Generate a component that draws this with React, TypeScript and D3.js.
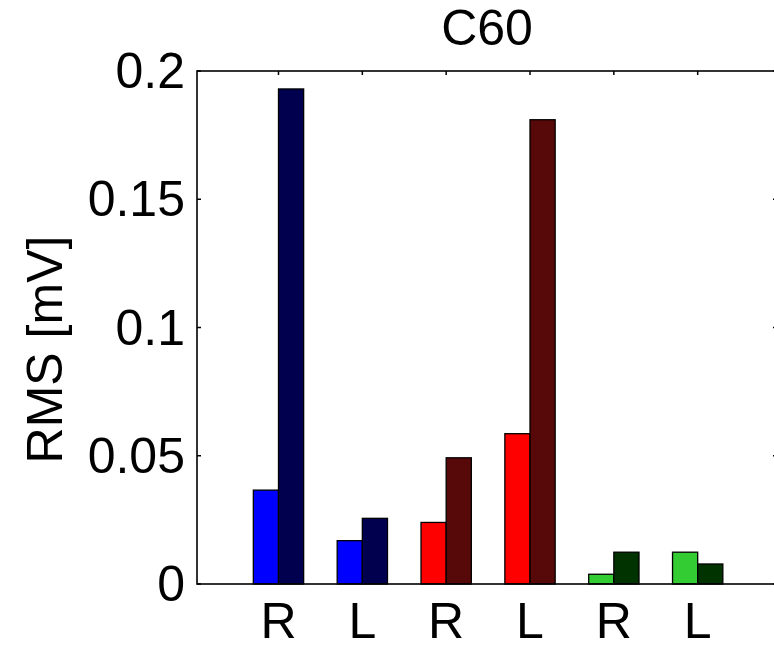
import React from "react";
import * as d3 from "d3";

// Channel labels along the x axis
const categories = ["R", "L", "R", "L", "R", "L"];
// RMS values (mV) for the first and second bar of each group
const firstValues = [0.0366, 0.0169, 0.024, 0.0586, 0.0038, 0.0124];
const secondValues = [0.193, 0.0256, 0.0492, 0.181, 0.0124, 0.0078];
// Colours per group: light shade then dark shade
const lightColors = ["#0000ff", "#0000ff", "#ff0000", "#ff0000", "#33cc33", "#33cc33"];
const darkColors = ["#00004f", "#00004f", "#570808", "#570808", "#003300", "#003300"];
const yTicks = [0, 0.05, 0.1, 0.15, 0.2];
const yTickLabels = ["0", "0.05", "0.1", "0.15", "0.2"];
const title = "C60";
const yLabel = "RMS [mV]";

const W = 774;
const H = 648;
const FONT = "'Liberation Sans', Arial, Helvetica, sans-serif";
const FS = 50;

export default function App() {
  const x = d3.scaleLinear().domain([0.028, 6.946]).range([197, 777]);
  const y = d3.scaleLinear().domain([0, 0.2]).range([584, 71]);
  const [x0, x1] = x.range();
  const [y0, y1] = y.range();
  const barW = 0.3;
  const tickLen = 4;

  return (
    <svg
      width={W}
      height={H}
      style={{ position: "absolute", left: 0, top: 0, background: "#fff" }}
      fontFamily={FONT}
    >
      {/* bottom ticks under the bars */}
      {categories.map((_, i) => (
        <line key={"bt" + i} x1={x(i + 1)} x2={x(i + 1)} y1={y0} y2={y0 - tickLen} stroke="#000" strokeWidth={1.5} />
      ))}
      {/* bars */}
      {categories.map((_, i) => (
        <g key={"g" + i}>
          <rect
            x={x(i + 1 - barW)}
            y={y(firstValues[i])}
            width={x(i + 1) - x(i + 1 - barW)}
            height={y0 - y(firstValues[i])}
            fill={lightColors[i]}
            stroke="#000"
            strokeWidth={1.3}
          />
          <rect
            x={x(i + 1)}
            y={y(secondValues[i])}
            width={x(i + 1 + barW) - x(i + 1)}
            height={y0 - y(secondValues[i])}
            fill={darkColors[i]}
            stroke="#000"
            strokeWidth={1.3}
          />
        </g>
      ))}
      {/* axes frame */}
      <rect x={x0} y={y1} width={x1 - x0} height={y0 - y1} fill="none" stroke="#000" strokeWidth={1.6} />
      {/* top ticks */}
      {categories.map((_, i) => (
        <line key={"tt" + i} x1={x(i + 1)} x2={x(i + 1)} y1={y1} y2={y1 + tickLen} stroke="#000" strokeWidth={1.5} />
      ))}
      {/* y ticks left and right */}
      {yTicks.map((t, i) => (
        <g key={"yt" + i}>
          <line x1={x0} x2={x0 + tickLen} y1={y(t)} y2={y(t)} stroke="#000" strokeWidth={1.5} />
          <line x1={x1} x2={x1 - tickLen} y1={y(t)} y2={y(t)} stroke="#000" strokeWidth={1.5} />
          <text
            x={x0 - 12}
            y={y(t)}
            textAnchor="end"
            dominantBaseline="central"
            fontSize={FS}
            fill="#000"
          >
            {yTickLabels[i]}
          </text>
        </g>
      ))}
      {/* x tick labels */}
      {categories.map((c, i) => (
        <text key={"xl" + i} x={x(i + 1)} y={638} textAnchor="middle" fontSize={FS} fill="#000">
          {c}
        </text>
      ))}
      {/* title */}
      <text x={(x0 + x1) / 2} y={45} textAnchor="middle" fontSize={FS} fill="#000">
        {title}
      </text>
      {/* y label */}
      <text
        transform={`translate(62, ${(y0 + y1) / 2 + 22}) rotate(-90)`}
        textAnchor="middle"
        fontSize={FS}
        fill="#000"
      >
        {yLabel}
      </text>
    </svg>
  );
}
